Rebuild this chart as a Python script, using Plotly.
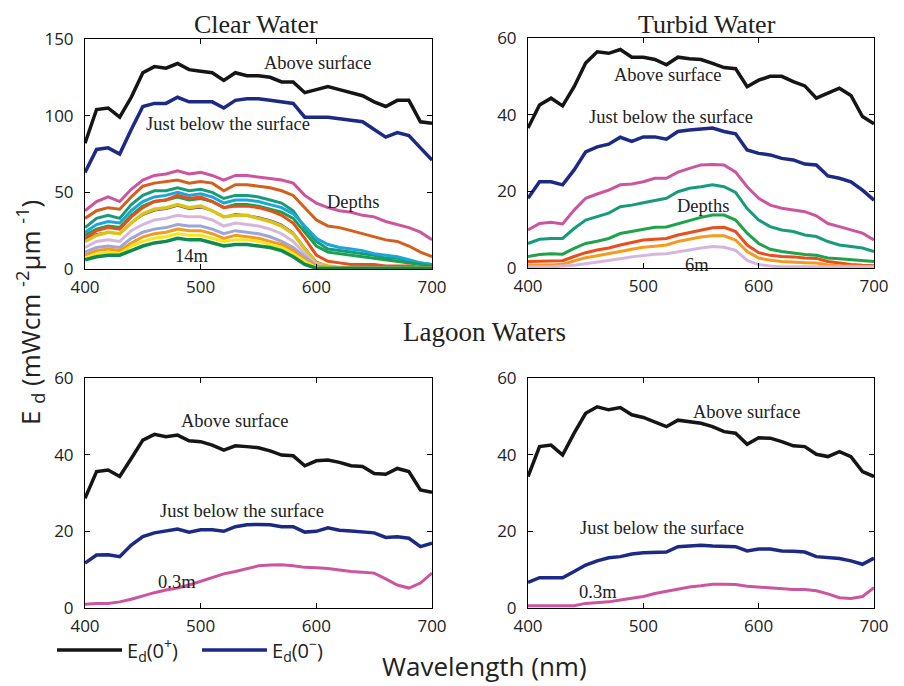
import plotly.graph_objects as go

WL = list(range(400, 701, 10))

# ---- Clear water ----
clear_above = [82, 104, 105, 99, 112, 128, 132, 131, 134, 130, 129, 128, 123, 128, 126, 126,
               125, 122, 122, 115, 117, 119, 117, 115, 113, 109, 106, 110, 110, 96, 95]
clear_below = [63, 78, 79, 75, 91, 106, 108, 108, 112, 109, 109, 109, 105, 110, 111, 111,
               110, 109, 108, 99, 99, 99, 98, 97, 96, 91, 86, 89, 87, 79, 71]
clear_depths = [
    [38, 44, 47, 44, 52, 58, 61, 62, 64, 62, 63, 61, 58, 61, 61, 60, 59, 58, 56, 48, 43, 40, 38, 37, 35, 34, 31, 29, 27, 24, 19],
    [33, 38, 40, 39, 47, 54, 56, 57, 58, 56, 57, 56, 51, 55, 55, 54, 53, 51, 48, 40, 32, 28, 27, 25, 23, 21, 19, 18, 15, 11, 8],
    [27, 33, 35, 33, 42, 48, 51, 51, 53, 51, 52, 50, 46, 48, 48, 47, 45, 43, 38, 27, 18, 13, 12, 11, 10, 9, 7, 7, 5, 4, 3],
    [24, 29, 31, 30, 38, 44, 47, 48, 50, 48, 49, 47, 43, 45, 45, 44, 42, 40, 36, 28, 20, 16, 14, 13, 12, 10, 9, 8, 6, 4, 3],
    [22, 26, 28, 27, 35, 41, 44, 45, 47, 45, 46, 44, 40, 42, 42, 41, 39, 37, 33, 24, 15, 11, 10, 9, 8, 7, 6, 5, 4, 3, 2],
    [20, 25, 27, 26, 34, 40, 44, 45, 48, 46, 47, 44, 40, 41, 41, 40, 38, 35, 30, 20, 9, 5, 4, 3, 3, 3, 2, 2, 2, 1, 1],
    [19, 23, 24, 23, 30, 35, 38, 39, 41, 39, 40, 38, 34, 36, 35, 34, 32, 29, 24, 14, 5, 2, 1, 1, 0.8, 0.8, 0.6, 0.6, 0.5, 0.5, 0.5],
    [18, 22, 24, 23, 30, 36, 39, 40, 42, 40, 41, 38, 34, 35, 35, 33, 31, 28, 23, 13, 4, 2, 1, 1, 0.8, 0.8, 0.6, 0.6, 0.5, 0.5, 0.5],
    [14, 18, 19, 18, 25, 29, 32, 33, 35, 34, 34, 32, 28, 30, 29, 28, 26, 23, 18, 10, 3, 1, 0.8, 0.7, 0.6, 0.6, 0.5, 0.5, 0.5, 0.5, 0.5],
    [11, 14, 15, 14, 20, 24, 26, 27, 29, 28, 28, 26, 23, 25, 24, 23, 21, 18, 14, 8, 2, 1, 0.7, 0.6, 0.5, 0.5, 0.5, 0.5, 0.5, 0.5, 0.5],
    [9, 12, 13, 12, 17, 21, 23, 24, 26, 25, 25, 23, 20, 22, 21, 20, 18, 16, 12, 6, 2, 1, 0.7, 0.6, 0.5, 0.5, 0.5, 0.5, 0.5, 0.5, 0.5],
    [7, 10, 11, 10, 15, 18, 20, 21, 23, 22, 22, 20, 18, 19, 19, 18, 16, 14, 10, 5, 1, 0.7, 0.5, 0.5, 0.5, 0.5, 0.5, 0.5, 0.5, 0.5, 0.5],
    [6, 8, 9, 9, 12, 15, 17, 18, 20, 19, 19, 17, 15, 16, 16, 15, 14, 12, 8, 3, 0.5, 0.5, 0.5, 0.5, 0.5, 0.5, 0.5, 0.5, 0.5, 0.5, 0.5],
]
clear_colors = ["#cc559f", "#d4601e", "#179b7a", "#1aa5db", "#1aa150", "#e94e1b", "#5b2a86",
                "#d9c31b", "#d7b6dd", "#9ea6d8", "#f39a1f", "#f6e71d", "#0e8a55"]
clear_widths = [3, 3, 3, 3, 3, 3, 1.5, 3.5, 3, 3, 3, 3, 3.5]

# ---- Turbid water ----
turbid_above = [36.5, 42.5, 44.3, 42.3, 47.3, 53.5, 56.4, 56, 57, 55, 55, 54.4, 53, 55, 54.6, 54.4,
                53.4, 52.3, 52, 47.3, 49, 50, 50, 48.6, 47.5, 44.3, 45.6, 46.9, 45, 39.5, 37.6]
turbid_below = [18.2, 22.5, 22.5, 21.7, 25.6, 30.3, 31.6, 32.3, 34.1, 33, 34.2, 34.2, 33.6, 35.6, 36, 36.2,
                36.5, 35.6, 35, 30.8, 29.9, 29.5, 28.6, 28.2, 27.1, 26.9, 24, 23.4, 22.5, 20.3, 17.7]
turbid_depths = [
    [9.9, 11.6, 11.9, 11.5, 15.1, 18.2, 19.3, 20.3, 21.7, 21.9, 22.5, 23.4, 23.4, 25, 26, 26.9,
     27, 26.9, 25, 21.2, 18.2, 16.4, 15.6, 15.1, 14.7, 13.6, 11.6, 10.8, 9.9, 9.1, 7.3],
    [6.4, 7.5, 7.7, 7.7, 10.3, 12.5, 13.4, 14.3, 16, 16.4, 17, 17.7, 18.2, 19.9, 20.8, 21.2,
     21.7, 21.2, 19.7, 15.5, 12.5, 10.8, 9.9, 9.5, 8.6, 8.2, 6.9, 6.0, 5.6, 5.2, 4.3],
    [3, 3.5, 3.7, 3.6, 5.1, 6.4, 7, 7.7, 9, 9.5, 10.1, 10.6, 10.7, 11.6, 12.3, 13.2,
     13.8, 13.8, 12.5, 9.1, 6.4, 4.9, 4.3, 3.9, 3.5, 3.3, 2.6, 2.4, 2.2, 2, 1.7],
    [1.7, 1.8, 1.9, 1.9, 3, 4.0, 4.7, 5.2, 6.0, 6.6, 7.3, 7.5, 7.7, 8.6, 9.2, 9.9,
     10.5, 10.6, 9.5, 6, 4, 3.3, 3, 2.9, 2.6, 2.5, 1.7, 1.3, 0.9, 0.7, 0.6],
    [0.8, 0.8, 0.8, 1, 1.9, 2.7, 3.2, 3.7, 4.3, 4.9, 5.4, 5.7, 6, 6.9, 7.5, 8.1,
     8.4, 8.4, 7.3, 4.3, 2.6, 2, 1.7, 1.5, 1.4, 1.3, 0.8, 0.6, 0.5, 0.5, 0.4],
    [0.3, 0.3, 0.3, 0.5, 0.7, 1.1, 1.5, 1.9, 2.4, 2.9, 3.3, 3.6, 3.7, 4.3, 4.7, 5.2,
     5.6, 5.4, 4.6, 2, 0.9, 0.5, 0.3, 0.3, 0.3, 0.3, 0.3, 0.3, 0.3, 0.3, 0.3],
]
turbid_colors = ["#cc559f", "#179b7a", "#1ea34b", "#e94e1b", "#f39a1f", "#d7b6dd"]

# ---- Lagoon waters (left) ----
lagoonA_above = [28.6, 35.6, 36, 34.3, 39, 43.8, 45.3, 44.7, 45.1, 43.6, 43.4, 42.5, 41.2, 42.3, 42.1, 41.8,
                 41, 39.9, 39.7, 37.1, 38.4, 38.6, 38, 37.1, 36.9, 35.1, 34.9, 36.4, 35.6, 30.8, 30.2]
lagoonA_below = [11.7, 13.8, 13.9, 13.4, 16.4, 18.6, 19.6, 20, 20.6, 19.8, 20.4, 20.4, 20, 21.2, 21.7, 21.8,
                 21.7, 21.2, 21.2, 19.8, 20, 20.9, 20.3, 20.1, 19.8, 19.6, 18.4, 18.6, 18.2, 16, 16.9]
lagoonA_03m = [1, 1.2, 1.2, 1.6, 2.3, 3.2, 4, 4.7, 5.2, 6, 6.9, 7.9, 8.9, 9.5, 10.3, 11,
               11.2, 11.3, 11, 10.6, 10.5, 10.3, 9.9, 9.5, 9.3, 9.1, 7.6, 6, 5.2, 6.5, 9.1]

# ---- Lagoon waters (right) ----
lagoonB_above = [34.3, 42.1, 42.5, 39.9, 45.6, 50.8, 52.5, 51.7, 52.3, 50.4, 49.7, 48.6, 47.3, 49, 48.5, 48.2,
                 47.3, 46, 45.6, 42.7, 44.4, 44.3, 43.4, 42.3, 42.1, 40.1, 39.5, 40.8, 39.5, 35.6, 34.3]
lagoonB_below = [6.7, 7.9, 7.9, 7.9, 9.5, 11.2, 12.3, 13.1, 13.4, 14.1, 14.4, 14.6, 14.6, 16, 16.2, 16.4,
                 16.2, 16.1, 16, 14.9, 15.4, 15.4, 14.9, 14.8, 14.6, 13.4, 13.1, 12.9, 12.3, 11.4, 13]
lagoonB_03m = [0.6, 0.6, 0.6, 0.6, 0.6, 1.2, 1.4, 1.6, 2.1, 2.5, 3, 3.8, 4.4, 5, 5.5, 5.8,
               6.2, 6.2, 6.1, 5.7, 5.5, 5.3, 5, 4.8, 4.8, 4.5, 3.7, 2.7, 2.5, 3, 5.3]

BLACK = "#151515"
BLUE = "#1c2a85"
PINK = "#cc559f"

SERIF = "Liberation Serif"
SANS = "Open Sans"

fig = go.Figure()


def add(y, color, xa, ya, width=3, name=None, legend=False):
    fig.add_trace(go.Scatter(x=WL, y=y, mode="lines", line=dict(color=color, width=width),
                             xaxis=xa, yaxis=ya, name=name, showlegend=legend,
                             hoverinfo="skip"))


# Clear water
for vals, col, w in zip(clear_depths, clear_colors, clear_widths):
    add(vals, col, "x", "y", w)
add(clear_above, BLACK, "x", "y", 3.5, "E<sub>d</sub>(0<sup>+</sup>)", True)
add(clear_below, BLUE, "x", "y", 3.5, "E<sub>d</sub>(0<sup>−</sup>)", True)

# Turbid water
for vals, col in zip(turbid_depths, turbid_colors):
    add(vals, col, "x2", "y2", 3)
add(turbid_above, BLACK, "x2", "y2", 3.5)
add(turbid_below, BLUE, "x2", "y2", 3.5)

# Lagoon left
add(lagoonA_03m, PINK, "x3", "y3", 3)
add(lagoonA_below, BLUE, "x3", "y3", 3.5)
add(lagoonA_above, BLACK, "x3", "y3", 3.5)

# Lagoon right
add(lagoonB_03m, PINK, "x4", "y4", 3)
add(lagoonB_below, BLUE, "x4", "y4", 3.5)
add(lagoonB_above, BLACK, "x4", "y4", 3.5)

OFF = 8  # page body margin in the browser
W, H = 904 - OFF, 686 - OFF


def fx(px):
    return (px - OFF) / W


def fy(py):
    return 1 - (py - OFF) / H


def px_x(a, b):
    return [fx(a), fx(b)]


def px_y(top, bottom):
    return [fy(bottom), fy(top)]


ax_common = dict(showline=True, linecolor="black", linewidth=1, mirror="ticks", ticks="inside",
                 ticklen=5, tickcolor="black", showgrid=False, zeroline=False, automargin=False,
                 tickfont=dict(family=SANS, size=17, color="#222"))
xa_common = dict(ax_common, ticklabelstandoff=3)
ya_common = dict(ax_common, ticklabelstandoff=7)

xticks = [400, 500, 600, 700]
fig.update_layout(
    xaxis=dict(domain=px_x(85, 432), range=[400, 700], tickvals=xticks, anchor="y", **xa_common),
    yaxis=dict(domain=px_y(39, 269), range=[0, 150], tickvals=[0, 50, 100, 150], anchor="x", **ya_common),
    xaxis2=dict(domain=px_x(528, 874), range=[400, 700], tickvals=xticks, anchor="y2", **xa_common),
    yaxis2=dict(domain=px_y(38, 268), range=[0, 60], tickvals=[0, 20, 40, 60], anchor="x2", **ya_common),
    xaxis3=dict(domain=px_x(85, 432), range=[400, 700], tickvals=xticks, anchor="y3", **xa_common),
    yaxis3=dict(domain=px_y(378, 608), range=[0, 60], tickvals=[0, 20, 40, 60], anchor="x3", **ya_common),
    xaxis4=dict(domain=px_x(528, 874), range=[400, 700], tickvals=xticks, anchor="y4", **xa_common),
    yaxis4=dict(domain=px_y(378, 608), range=[0, 60], tickvals=[0, 20, 40, 60], anchor="x4", **ya_common),
    width=W, height=H,
    margin=dict(l=0, r=0, t=0, b=0, autoexpand=False),
    paper_bgcolor="white", plot_bgcolor="white",
    showlegend=True,
    legend=dict(orientation="h", x=fx(52), y=fy(650), xanchor="left", yanchor="middle",
                font=dict(family=SANS, size=20, color="#222"), bgcolor="rgba(0,0,0,0)",
                itemwidth=65, entrywidth=65, tracegroupgap=0),
)


def note(text, x, y, size=18.5, family=SERIF, angle=0):
    fig.add_annotation(text=text, x=fx(x), y=fy(y), xref="paper", yref="paper",
                       showarrow=False, font=dict(family=family, size=size, color="#222"),
                       xanchor="center", yanchor="middle", textangle=angle, borderpad=0)


note("Clear Water", 256, 24, 26)
note("Turbid Water", 707, 24, 26)
note("Lagoon Waters", 484, 332, 27)

note("Above surface", 317, 63)
note("Just below the surface", 228, 124)
note("Depths", 353, 202)
note("14m", 192, 256)

note("Above surface", 667, 75)
note("Just below the surface", 671, 117)
note("Depths", 703, 206)
note("6m", 697, 265)

note("Above surface", 234, 421)
note("Just below the surface", 242, 511)
note("0.3m", 177, 582)

note("Above surface", 746, 412)
note("Just below the surface", 662, 528)
note("0.3m", 598, 592)

note("E <sub>d</sub> (mWcm <sup>-2</sup>µm <sup>-1</sup>)", 30, 313, 26, SANS, -90)
note("Wavelength (nm)", 484, 666, 26, SANS)

fig.write_html("out.html")
